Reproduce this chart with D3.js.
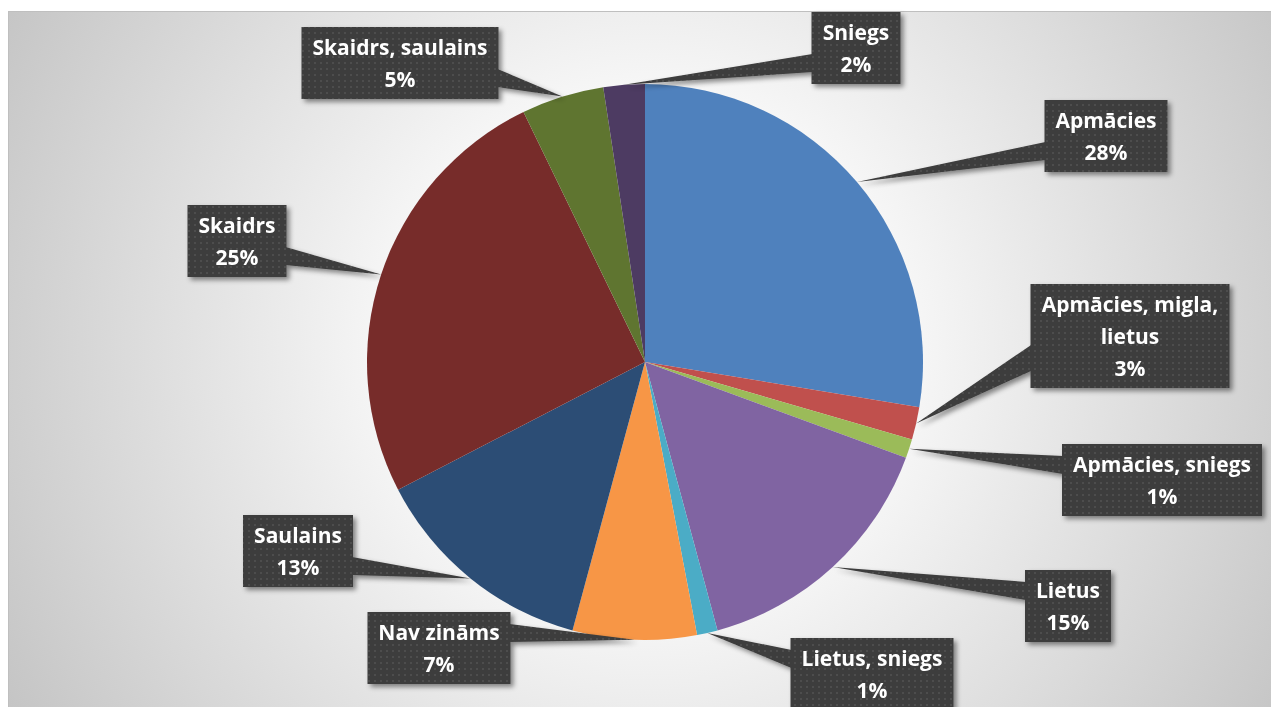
<!DOCTYPE html>
<html>
<head>
<meta charset="utf-8">
<script src="https://cdn.jsdelivr.net/npm/d3@7"></script>
<style>
  body { margin: 0; background: #ffffff; }
  svg { display: block; }
</style>
</head>
<body>
<div id="piechart"></div>
<script>
// weather categories, in the order the slices run clockwise from 12 o'clock
var categories = ["Apmācies", "Apmācies, migla, lietus", "Apmācies, sniegs", "Lietus", "Lietus, sniegs",
                  "Nav zināms", "Saulains", "Skaidrs", "Skaidrs, saulains", "Sniegs"]
// share of each slice
var values = [27.6, 1.9, 1.1, 15.2, 1.2, 7.2, 13.2, 25.4, 4.8, 2.4]
// percentages as they are printed in the data labels
var percentLabels = ["28%", "3%", "1%", "15%", "1%", "7%", "13%", "25%", "5%", "2%"]

var sliceColors = ["#4F81BD", "#C0504D", "#9BBB59", "#8064A2", "#4BACC6",
                   "#F79646", "#2C4D75", "#772C2A", "#5F7530", "#4D3B62"]

// where the data label boxes were dragged to (box centres)
var labelCenters = [[1106, 136], [1130, 336], [1162, 480], [1068, 606], [872, 674],
                    [439, 648], [298, 551], [237, 241], [400, 63], [856, 48]]

var width = 1271,
    height = 707,
    cx = 645,
    cy = 362,
    radius = 278

var svg = d3.select("#piechart")
  .append("svg")
    .attr("width", width)
    .attr("height", height)

var defs = svg.append("defs")

// soft grey radial background of the chart area
var grad = defs.append("radialGradient")
    .attr("id", "bg")
    .attr("gradientUnits", "userSpaceOnUse")
    .attr("cx", 650).attr("cy", 350).attr("r", 760)
grad.append("stop").attr("offset", 0).attr("stop-color", "#ffffff")
grad.append("stop").attr("offset", 0.35).attr("stop-color", "#f6f6f6")
grad.append("stop").attr("offset", 1).attr("stop-color", "#c2c2c2")

// dotted dark fill of the label boxes
var pat = defs.append("pattern")
    .attr("id", "dots")
    .attr("patternUnits", "userSpaceOnUse")
    .attr("width", 6).attr("height", 6)
pat.append("rect").attr("width", 6).attr("height", 6).attr("fill", "#3c3c3c")
pat.append("rect").attr("x", 2).attr("y", 2).attr("width", 2).attr("height", 2).attr("fill", "#4e4e4e")

var shadow = defs.append("filter")
    .attr("id", "shadow")
    .attr("x", "-20%").attr("y", "-20%")
    .attr("width", "150%").attr("height", "160%")
shadow.append("feDropShadow")
    .attr("dx", 3).attr("dy", 3)
    .attr("stdDeviation", 2.5)
    .attr("flood-color", "#000")
    .attr("flood-opacity", 0.45)

svg.append("rect")
    .attr("x", 8.5).attr("y", 11.5)
    .attr("width", width + 10).attr("height", height + 10)
    .attr("fill", "url(#bg)")
    .attr("stroke", "#bfbfbf")

// the pie itself
var pie = d3.pie()
    .sort(null)
    .value(function(d) { return d; })
var arcs = pie(values)

var arc = d3.arc()
    .innerRadius(0)
    .outerRadius(radius)

var g = svg.append("g")
    .attr("transform", "translate(" + cx + "," + cy + ")")

g.selectAll("path")
  .data(arcs)
  .enter()
  .append("path")
    .attr("d", arc)
    .attr("fill", function(d, i) { return sliceColors[i]; })

// data labels: wedge callouts pointing at the middle of each slice's rim
var labelFont = "bold 21px 'Open Sans', Lato, sans-serif",
    lineStep = 32,
    padX = 11

var labels = svg.append("g")

arcs.forEach(function(d, i) {
  var mid = (d.startAngle + d.endAngle) / 2
  var tx = cx + radius * Math.sin(mid),
      ty = cy - radius * Math.cos(mid)

  var lg = labels.append("g").attr("filter", "url(#shadow)")
  var box = lg.append("rect").attr("fill", "url(#dots)")
  var wedge = lg.append("path").attr("fill", "url(#dots)")

  var text = lg.append("text")
      .attr("text-anchor", "middle")
      .attr("fill", "#ffffff")
      .style("font", labelFont)

  // wrap the category name so no line is wider than the box allows
  var words = categories[i].split(" "),
      lines = [],
      line = ""
  var probe = text.append("tspan")
  words.forEach(function(w) {
    var tryLine = line ? line + " " + w : w
    probe.text(tryLine)
    if (line && probe.node().getComputedTextLength() > 205) {
      lines.push(line)
      line = w
    } else {
      line = tryLine
    }
  })
  lines.push(line)
  lines.push(percentLabels[i])
  probe.remove()

  var maxW = 0
  lines.forEach(function(l) {
    var t = text.append("tspan").text(l)
    maxW = Math.max(maxW, t.node().getComputedTextLength())
  })

  var w = Math.round(maxW + 2 * padX),
      h = lines.length * lineStep + 8,
      x = labelCenters[i][0] - w / 2,
      y = labelCenters[i][1] - h / 2

  box.attr("x", x).attr("y", y).attr("width", w).attr("height", h)

  text.selectAll("tspan")
      .attr("x", x + w / 2)
      .attr("y", function(l, k) { return y + 28 + k * lineStep; })

  // pick the side of the box the wedge leaves from
  var dx = tx - (x + w / 2),
      dy = ty - (y + h / 2),
      dq = dx * h / w,
      b1, b2
  if (Math.abs(dy) > Math.abs(dq)) {
    var ey = dy > 0 ? y + h - 1 : y + 1,
        gx1 = dx > 0 ? 7 : 2,
        gx2 = dx > 0 ? 10 : 5
    b1 = [x + w * gx1 / 12, ey]
    b2 = [x + w * gx2 / 12, ey]
  } else {
    var ex = dx > 0 ? x + w - 1 : x + 1,
        gy1 = dy > 0 ? 7 : 2,
        gy2 = dy > 0 ? 10 : 5
    b1 = [ex, y + h * gy1 / 12]
    b2 = [ex, y + h * gy2 / 12]
  }
  wedge.attr("d", "M" + b1 + "L" + [tx, ty] + "L" + b2 + "Z")
})
</script>
</body>
</html>
